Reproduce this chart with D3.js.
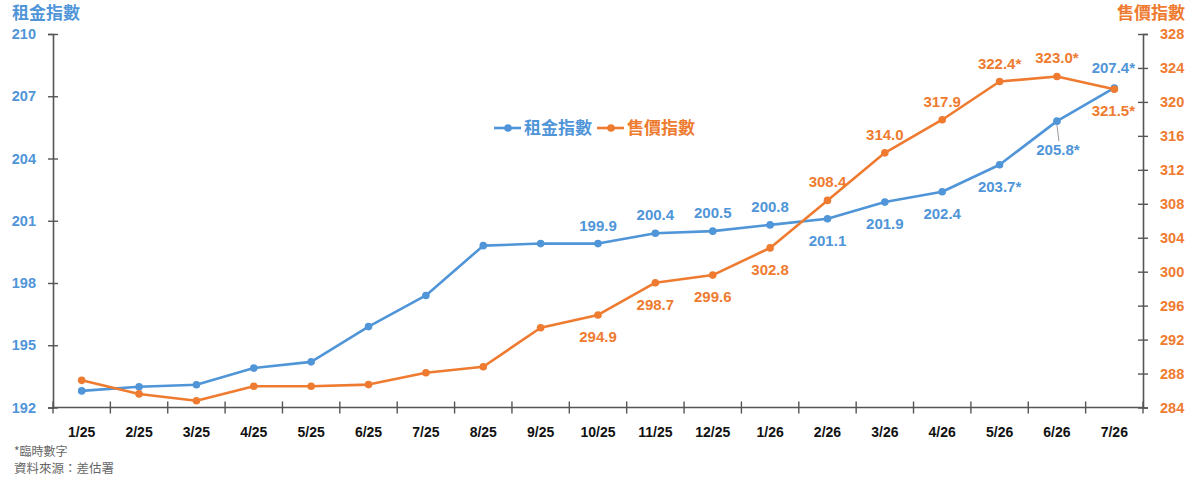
<!DOCTYPE html>
<html>
<head>
<meta charset="utf-8">
<script src="https://cdn.jsdelivr.net/npm/d3@7"></script>
<style>
  body { margin: 0; background: #fff; }
  text { font-family: "Liberation Sans", Arial, "Noto Sans CJK TC", sans-serif; }
  .cjk { font-family: "Noto Sans CJK TC", "Noto Sans CJK SC", sans-serif; }
</style>
</head>
<body>
<div id="container"></div>
<script>
const months = ["1/25", "2/25", "3/25", "4/25", "5/25", "6/25", "7/25", "8/25", "9/25", "10/25",
  "11/25", "12/25", "1/26", "2/26", "3/26", "4/26", "5/26", "6/26", "7/26"];
const rent = [192.8, 193.0, 193.1, 193.9, 194.2, 195.9, 197.4, 199.8, 199.9, 199.9,
  200.4, 200.5, 200.8, 201.1, 201.9, 202.4, 203.7, 205.8, 207.4];
const price = [287.2, 285.6, 284.8, 286.5, 286.5, 286.7, 288.1, 288.8, 293.4, 294.9,
  298.7, 299.6, 302.8, 308.4, 314.0, 317.9, 322.4, 323.0, 321.5];
const rentTicks = [192, 195, 198, 201, 204, 207, 210];
const priceTicks = [284, 288, 292, 296, 300, 304, 308, 312, 316, 320, 324, 328];
const provisional = ["5/26", "6/26", "7/26"];
const labelFrom = "10/25";

const blue = "#4f95d8";
const orange = "#ee7b30";

window.onload = () => {
  const width = 1200, height = 482;
  const left = 53, right = 1143, top = 34, bottom = 407.5;

  const svg = d3.select("#container")
    .append("svg")
    .attr("width", width)
    .attr("height", height);

  const x = d3.scaleBand()
    .domain(months)
    .range([left, right])
    .padding(0);
  const cx = d => x(d) + x.bandwidth() / 2;

  const yL = d3.scaleLinear().domain([192, 210]).range([bottom, top]);
  const yR = d3.scaleLinear().domain([284, 328]).range([bottom, top]);

  // left axis
  const gl = svg.append("g")
    .attr("transform", "translate(" + left + ",0)")
    .call(d3.axisLeft(yL).tickValues(rentTicks).tickSize(5).tickPadding(12));
  gl.selectAll(".tick line").attr("x2", -5).attr("x1", 5);

  // right axis
  const gr = svg.append("g")
    .attr("transform", "translate(" + right + ",0)")
    .call(d3.axisRight(yR).tickValues(priceTicks).tickSize(5).tickPadding(12));
  gr.selectAll(".tick line").attr("x1", -5).attr("x2", 5);

  // bottom axis, ticks at the band boundaries
  const bounds = months.map(m => x(m)).concat([right]);
  const gb = svg.append("g")
    .attr("transform", "translate(0," + bottom + ")");
  gb.append("line").attr("x1", left).attr("x2", right)
    .attr("stroke", "#555").attr("stroke-width", 1.6);
  gb.selectAll(".bt").data(bounds).enter().append("line")
    .attr("x1", d => d).attr("x2", d => d)
    .attr("y1", -6).attr("y2", 6)
    .attr("stroke", "#555").attr("stroke-width", 1.4);
  gb.selectAll(".bl").data(months).enter().append("text")
    .attr("x", d => cx(d)).attr("y", 29)
    .attr("text-anchor", "middle")
    .attr("font-size", 14).attr("font-weight", "bold")
    .attr("fill", "#111")
    .text(d => d);

  [gl, gr].forEach(g => {
    g.select(".domain").attr("stroke", "#555").attr("stroke-width", 1.6);
    g.selectAll(".tick line").attr("stroke", "#555").attr("stroke-width", 1.4);
    g.selectAll(".tick text").attr("font-size", 14.5).attr("font-weight", "bold")
      .attr("font-family", "Liberation Sans, Arial");
  });
  gl.selectAll(".tick text").attr("fill", blue);
  gr.selectAll(".tick text").attr("fill", orange);

  // axis titles
  svg.append("text").attr("class", "cjk")
    .attr("x", 12).attr("y", 19)
    .attr("font-size", 17).attr("font-weight", "bold")
    .attr("fill", blue).text("租金指數");
  svg.append("text").attr("class", "cjk")
    .attr("x", 1185).attr("y", 19)
    .attr("text-anchor", "end")
    .attr("font-size", 17).attr("font-weight", "bold")
    .attr("fill", orange).text("售價指數");

  // series
  const series = [
    {name: "租金指數", values: rent, y: yL, color: blue},
    {name: "售價指數", values: price, y: yR, color: orange}
  ];

  series.forEach(s => {
    const pts = months.map((m, i) => ({m: m, v: s.values[i]}));
    const line = d3.line().x(d => cx(d.m)).y(d => s.y(d.v));
    svg.append("path")
      .datum(pts)
      .attr("fill", "none")
      .attr("stroke", s.color)
      .attr("stroke-width", 2.6)
      .attr("stroke-linejoin", "round")
      .attr("d", line);
    svg.selectAll(null).data(pts).enter().append("circle")
      .attr("cx", d => cx(d.m))
      .attr("cy", d => s.y(d.v))
      .attr("r", 3.8)
      .attr("fill", s.color);
  });

  // data labels
  const start = months.indexOf(labelFrom);
  const fmt = (m, v) => v.toFixed(1) + (provisional.includes(m) ? "*" : "");

  const rentAbove = ["10/25", "11/25", "12/25", "1/26", "7/26"];
  months.forEach((m, i) => {
    if (i < start) return;
    const px = cx(m), py = yL(rent[i]);
    let dy = rentAbove.includes(m) ? -13 : 27;
    let dx = 0;
    if (m === "6/26") { dy = 34; dx = 1; }
    if (m === "7/26") { dx = -1; dy = -15; }
    if (m === "6/26") {
      svg.append("line")
        .attr("x1", px).attr("y1", py + 4)
        .attr("x2", px + 2).attr("y2", py + 20)
        .attr("stroke", "#999").attr("stroke-width", 1);
    }
    svg.append("text")
      .attr("x", px + dx).attr("y", py + dy)
      .attr("text-anchor", "middle")
      .attr("font-size", 15).attr("font-weight", "bold")
      .attr("fill", blue)
      .text(fmt(m, rent[i]));
  });

  const priceAbove = ["2/26", "3/26", "4/26", "5/26", "6/26"];
  months.forEach((m, i) => {
    if (i < start) return;
    const px = cx(m), py = yR(price[i]);
    let dy = priceAbove.includes(m) ? -13 : 27;
    let dx = 0;
    if (m === "7/26") { dx = -1; dy = 27; }
    svg.append("text")
      .attr("x", px + dx).attr("y", py + dy)
      .attr("text-anchor", "middle")
      .attr("font-size", 15).attr("font-weight", "bold")
      .attr("fill", orange)
      .text(fmt(m, price[i]));
  });

  // legend
  const lg = svg.append("g").attr("transform", "translate(494,128)");
  let lx = 0;
  series.forEach(s => {
    lg.append("line").attr("x1", lx).attr("x2", lx + 27)
      .attr("y1", 0).attr("y2", 0)
      .attr("stroke", s.color).attr("stroke-width", 2.6);
    lg.append("circle").attr("cx", lx + 14).attr("cy", 0).attr("r", 3.8).attr("fill", s.color);
    const t = lg.append("text").attr("class", "cjk")
      .attr("x", lx + 30).attr("y", 6)
      .attr("font-size", 17).attr("font-weight", "bold")
      .attr("fill", s.color).text(s.name);
    lx += 30 + t.node().getComputedTextLength() + 5;
  });

  // footnotes
  svg.append("text").attr("class", "cjk")
    .attr("x", 14).attr("y", 456)
    .attr("font-size", 12).attr("fill", "#666")
    .text("*臨時數字");
  svg.append("text").attr("class", "cjk")
    .attr("x", 14).attr("y", 473)
    .attr("font-size", 12.5).attr("fill", "#666")
    .text("資料來源：差估署");
};
</script>
</body>
</html>
